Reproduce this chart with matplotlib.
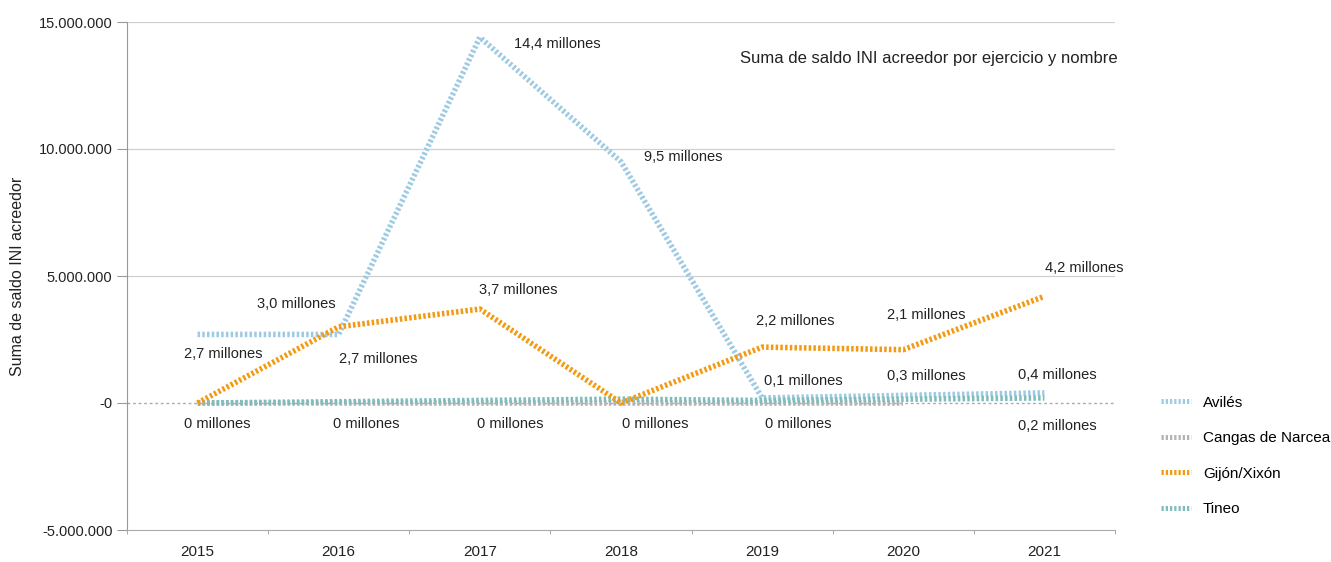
import matplotlib.pyplot as plt
from matplotlib.ticker import FuncFormatter

plt.rcParams['font.family'] = ['Liberation Sans', 'DejaVu Sans']

years = ['2015', '2016', '2017', '2018', '2019', '2020', '2021']
aviles = [2.7e6, 2.7e6, 14.4e6, 9.5e6, 0.2e6, 0.3e6, 0.4e6]
cangas = [0.0, 0.0, 0.0, 0.0, 0.0, 0.0]
gijon = [0.0, 3.0e6, 3.7e6, 0.0, 2.2e6, 2.1e6, 4.2e6]
tineo = [0.0, 0.05e6, 0.1e6, 0.15e6, 0.1e6, 0.15e6, 0.2e6]

# (x index, y value, text, offset in pixels)
labels = [
    (0, 2.7e6, '2,7 millones', (26, -20)),
    (1, 2.7e6, '2,7 millones', (40, -25)),
    (2, 14.4e6, '14,4 millones', (77, -7)),
    (3, 9.5e6, '9,5 millones', (62, 5)),
    (1, 3.0e6, '3,0 millones', (-42, 23)),
    (2, 3.7e6, '3,7 millones', (38, 19)),
    (4, 2.2e6, '2,2 millones', (33, 26)),
    (5, 2.1e6, '2,1 millones', (23, 35)),
    (6, 4.2e6, '4,2 millones', (40, 28)),
    (0, 0.0, '0 millones', (20, -21)),
    (1, 0.0, '0 millones', (28, -21)),
    (2, 0.0, '0 millones', (30, -21)),
    (3, 0.0, '0 millones', (34, -21)),
    (4, 0.0, '0 millones', (36, -21)),
    (4, 0.2e6, '0,1 millones', (41, 17)),
    (5, 0.3e6, '0,3 millones', (23, 19)),
    (6, 0.4e6, '0,4 millones', (13, 18)),
    (6, 0.2e6, '0,2 millones', (13, -28)),
]

fig = plt.figure(figsize=(13.31, 5.62), dpi=100)
ax = fig.add_axes([127 / 1331, 1 - 530 / 562, 988 / 1331, 508 / 562])

x = list(range(len(years)))
style = dict(lw=4.0, dashes=(0.45, 0.4), solid_capstyle='butt', dash_capstyle='butt')
ax.plot(x, aviles, color='#9ecbe3', label='Avilés', zorder=3, **style)
ax.plot(x[:len(cangas)], cangas, color='#b3b3b3', label='Cangas de Narcea', zorder=3, **style)
ax.plot(x, gijon, color='#f39a12', label='Gijón/Xixón', zorder=4, **style)
ax.plot(x, tineo, color='#7fbdbb', label='Tineo', zorder=3, **style)

for xi, yv, txt, off in labels:
    ax.annotate(txt, (xi, yv), xytext=off, textcoords='offset pixels',
                ha='center', va='center', fontsize=10.5, color='#222222')

ax.set_xlim(-0.5, 6.5)
ax.set_ylim(-5e6, 15e6)
ax.set_yticks([-5e6, 0, 5e6, 10e6, 15e6])
ax.yaxis.set_major_formatter(FuncFormatter(
    lambda v, p: '-0' if v == 0 else f'{int(v):,}'.replace(',', '.')))
ax.set_xticks(x)
ax.set_xticklabels(years)
ax.set_xticks([i - 0.5 for i in range(len(years) + 1)], minor=True)
ax.tick_params(axis='x', which='major', length=0, pad=11, labelsize=11, colors='#222222')
ax.tick_params(axis='x', which='minor', length=3, color='#999999', direction='out')
ax.tick_params(axis='y', length=7, color='#999999', labelsize=10.5, labelcolor='#222222')

for v in [5e6, 10e6, 15e6]:
    ax.axhline(v, color='#d0d0d0', lw=0.9, zorder=1)
ax.axhline(0, color='#aaaaaa', lw=1, ls=(0, (2, 2)), zorder=1)

for s in ['top', 'right']:
    ax.spines[s].set_visible(False)
ax.spines['left'].set_color('#999999')
ax.spines['bottom'].set_color('#aaaaaa')

ax.set_ylabel('Suma de saldo INI acreedor', fontsize=11.5, color='#222222', labelpad=10)
ax.text(1.003, 0.929, 'Suma de saldo INI acreedor por ejercicio y nombre',
        transform=ax.transAxes, ha='right', va='center', fontsize=12, color='#222222')

leg = fig.legend(loc='upper left', bbox_to_anchor=(1147 / 1331, 1 - 382 / 562),
                 frameon=False, fontsize=11, handlelength=2.0, labelspacing=1.41,
                 handletextpad=0.75)
for line in leg.get_lines():
    line.set_linewidth(3.6)

fig.savefig('out.png', dpi=100)
